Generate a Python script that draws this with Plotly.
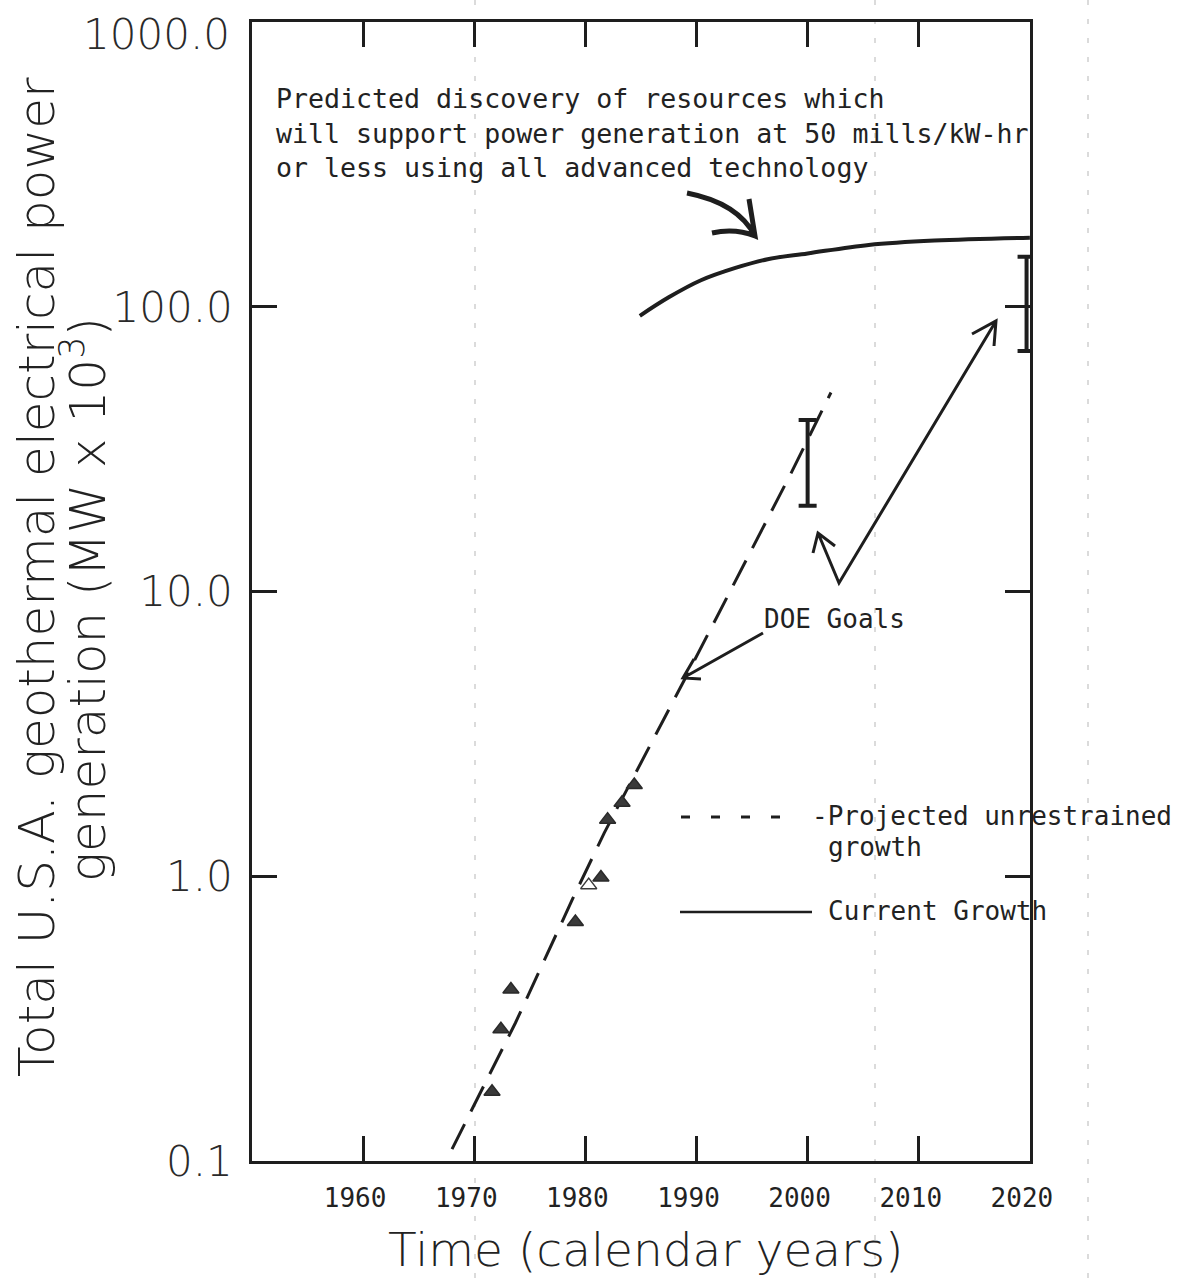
import plotly.graph_objects as go
import math

# ---------------- data ----------------
OBS_YEARS = [1971.6, 1972.4, 1973.3, 1979.1, 1980.3, 1981.4, 1982.0, 1983.3, 1984.4]
OBS_GW = [0.175, 0.29, 0.40, 0.69, 0.93, 0.99, 1.58, 1.81, 2.09]
OBS_SYMBOLS = ["triangle-up", "triangle-up", "triangle-up", "triangle-up",
               "triangle-up-open", "triangle-up", "triangle-up", "triangle-up", "triangle-up"]

PROJ_YEARS = [1968.0, 1973.7, 1978.9, 1981.7, 1988.8, 1994.0, 1998.5, 2002.1]
PROJ_GW = [0.11, 0.305, 0.84, 1.42, 4.8, 11.9, 26.0, 50.0]

CURRENT_YEARS = [1984.9, 1987.5, 1990.4, 1993.5, 1996.4, 2000.0, 2005.5, 2011.4, 2020.0]
CURRENT_GW = [93, 108, 124, 137, 147, 154, 165, 171, 175]

GOAL_YEARS = [2000.0, 2019.7]
GOAL_LOW = [20.0, 70.0]
GOAL_HIGH = [40.0, 150.0]

X_TICKS = [1960, 1970, 1980, 1990, 2000, 2010, 2020]
X_TICK_LABELS = ["1960", "1970", "1980", "1990", "2000", "2010", "2020"]
Y_TICKS = [0.1, 1, 10, 100, 1000]
Y_TICK_LABELS = ["0.1", "1.0", "10.0", "100.0", "1000.0"]

NOTE_TEXT = ("Predicted discovery of resources which<br>"
             "will support power generation at 50 mills/kW-hr<br>"
             "or less using all advanced technology")
LEGEND_PROJ = "-Projected unrestrained"
LEGEND_PROJ2 = "growth"
LEGEND_CUR = "Current Growth"
DOE_TEXT = "DOE Goals"
X_TITLE = "Time (calendar years)"
Y_TITLE_1 = "Total U.S.A. geothermal electrical power"
Y_TITLE_2 = "generation (MW x 10<sup>3</sup>)"

# ---------------- layout geometry ----------------
W, H = 1196, 1278
L, R, T, B = 252, 1030, 22, 1161
INK = "#1e1e1e"
TYPE_FONT = "DejaVu Sans Mono"
LETTER_FONT = "DejaVu Sans"
Y_TICK_FONT = dict(family=LETTER_FONT, size=42, color="#2a2a2a", weight=300)


def px(x):
    return (x - L) / (R - L)


def py(y):
    return (B - y) / (B - T)


def pt(x, y):
    return f"{px(x):.5f},{py(y):.5f}"


fig = go.Figure()

# projected unrestrained growth (dashed)
fig.add_trace(go.Scatter(
    x=PROJ_YEARS, y=PROJ_GW, mode="lines", name="Projected unrestrained growth",
    line=dict(color=INK, width=3, dash="28px,14px"), showlegend=False))

# current growth (solid curve)
fig.add_trace(go.Scatter(
    x=CURRENT_YEARS, y=CURRENT_GW, mode="lines", name="Current Growth",
    line=dict(color=INK, width=4, shape="spline", smoothing=1.0), showlegend=False))

# observed points
fig.add_trace(go.Scatter(
    x=OBS_YEARS, y=OBS_GW, mode="markers", name="Observed",
    marker=dict(symbol=OBS_SYMBOLS, size=14, color="#3a3a3a",
                line=dict(color="#2a2a2a", width=1.5)),
    showlegend=False))

# DOE goal ranges as error bars
mid = [math.sqrt(lo * hi) for lo, hi in zip(GOAL_LOW, GOAL_HIGH)]
fig.add_trace(go.Scatter(
    x=GOAL_YEARS, y=mid, mode="markers", name="DOE Goals",
    marker=dict(size=2, color="rgba(0,0,0,0)"),
    error_y=dict(type="data", symmetric=False,
                 array=[hi - m for hi, m in zip(GOAL_HIGH, mid)],
                 arrayminus=[m - lo for lo, m in zip(GOAL_LOW, mid)],
                 color=INK, thickness=4, width=9),
    cliponaxis=False, showlegend=False))

shapes = []
# faint photocopy streaks
for sx in [475, 875, 1088]:
    shapes.append(dict(type="line", xref="paper", yref="paper",
                       x0=px(sx), x1=px(sx), y0=py(H), y1=py(0),
                       line=dict(color="#cfcfcf", width=1.5, dash="5px,14px"),
                       layer="below"))

# legend samples
shapes.append(dict(type="line", xref="paper", yref="paper",
                   x0=px(681), x1=px(790), y0=py(817), y1=py(817),
                   line=dict(color=INK, width=3, dash="9px,21px")))
shapes.append(dict(type="line", xref="paper", yref="paper",
                   x0=px(680), x1=px(812), y0=py(912), y1=py(912),
                   line=dict(color=INK, width=2.5)))


def path_shape(path, width=3):
    return dict(type="path", xref="paper", yref="paper", path=path,
                line=dict(color=INK, width=width))


# DOE arrow to dashed line
shapes.append(path_shape(
    f"M{pt(763,633)} L{pt(683,678)} M{pt(701,679)} L{pt(683,678)} L{pt(694,659)}", 3))
# V-shaped arrow to both goal ranges
shapes.append(path_shape(
    f"M{pt(818,533)} L{pt(839,583)} L{pt(996,321)}"
    f" M{pt(813,553)} L{pt(818,533)} L{pt(835,546)}"
    f" M{pt(972,334)} L{pt(996,321)} L{pt(994,346)}", 3))
# curved marker arrow pointing at the curve
shapes.append(path_shape(
    f"M{pt(687,193)} Q{pt(738,203)} {pt(755,236)}"
    f" M{pt(712,233)} Q{pt(735,228)} {pt(755,236)} L{pt(749,199)}", 5))

annotations = []


def txt(text, x, y, size, font=TYPE_FONT, xanchor="left", yanchor="middle",
        angle=0, weight=None, align="left", color="#222"):
    f = dict(family=font, size=size, color=color)
    if weight:
        f["weight"] = weight
    annotations.append(dict(text=text, x=px(x), y=py(y), xref="paper", yref="paper",
                            xanchor=xanchor, yanchor=yanchor, showarrow=False,
                            textangle=angle, font=f, align=align))


txt(NOTE_TEXT, 274, 133, 26.6)
txt(DOE_TEXT, 762, 619, 26)
txt(LEGEND_PROJ, 810, 816, 26)
txt(LEGEND_PROJ2, 826, 847, 26)
txt(LEGEND_CUR, 826, 911, 26)
txt(X_TITLE, 645, 1249, 47, font=LETTER_FONT, xanchor="center", weight=300)
txt(Y_TITLE_1, 37, 577, 50, font=LETTER_FONT, xanchor="center", angle=-90, weight=300)
txt(Y_TITLE_2, 84, 600, 50, font=LETTER_FONT, xanchor="center", angle=-90, weight=300)
# the top tick label sits a little below its tick in the reference (kept inside the page)
txt(Y_TICK_LABELS[-1], 232, 34, 42, font=LETTER_FONT, xanchor="right",
    weight=300, color="#2a2a2a")

fig.update_layout(
    width=W, height=H,
    margin=dict(l=L, r=W - R, t=T, b=H - B, autoexpand=False),
    paper_bgcolor="white", plot_bgcolor="white",
    shapes=shapes, annotations=annotations,
    showlegend=False,
)

fig.update_xaxes(
    range=[1950, 2020.01], tickvals=X_TICKS, ticktext=X_TICK_LABELS,
    ticks="inside", ticklen=25, tickwidth=2.5, tickcolor=INK,
    showline=True, linewidth=2.5, linecolor=INK, mirror="ticks",
    showgrid=False, zeroline=False,
    tickfont=dict(family=TYPE_FONT, size=26, color="#222"),
    ticklabelstandoff=12, ticklabelshift=-8, ticklabeloverflow="allow",
)
fig.update_yaxes(
    type="log", range=[-1.0005, 3.0005], tickvals=Y_TICKS,
    ticktext=Y_TICK_LABELS[:-1] + [""],
    ticks="inside", ticklen=25, tickwidth=2.5, tickcolor=INK,
    showline=True, linewidth=2.5, linecolor=INK, mirror="ticks",
    showgrid=False, zeroline=False,
    tickfont=Y_TICK_FONT,
    ticklabelstandoff=8, ticklabeloverflow="allow",
)

fig.write_html("out.html")
